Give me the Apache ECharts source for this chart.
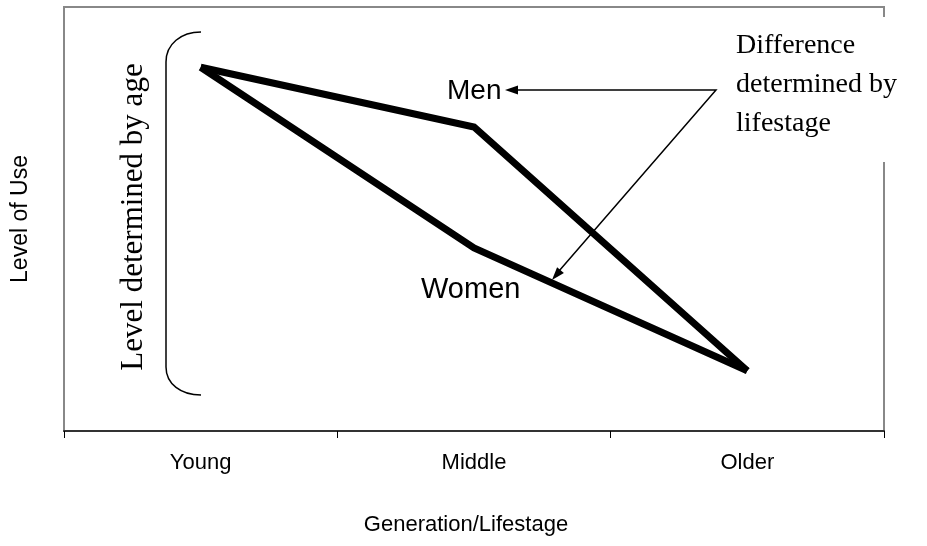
<!DOCTYPE html>
<html>
<head>
<meta charset="utf-8">
<script src="https://cdn.jsdelivr.net/npm/echarts@6/dist/echarts.min.js"></script>
<style>html,body{margin:0;padding:0;background:#fff;}#c{width:927px;height:546px;}</style>
</head>
<body>
<div id="c"></div>
<script>
const categories = ['Young', 'Middle', 'Older'];
const menValues = [85.8, 71.7, 14.2];
const womenValues = [85.8, 43.2, 14.2];
const xAxisTitle = 'Generation/Lifestage';
const yAxisTitle = 'Level of Use';

const chart = echarts.init(document.getElementById('c'), null, {renderer: 'canvas'});
const sans = 'Arial, "Liberation Sans", sans-serif';
const serif = '"Times New Roman", "Liberation Serif", serif';
const bracketStyle = {fill: null, stroke: '#000', lineWidth: 1.5};

chart.setOption({
  animation: false,
  backgroundColor: '#fff',
  grid: {left: 64, right: 43, top: 7, bottom: 115, show: true, borderColor: '#888', borderWidth: 2},
  xAxis: {
    type: 'category', data: categories, boundaryGap: true,
    axisLine: {lineStyle: {color: '#333', width: 2}},
    axisTick: {show: true, length: 7, lineStyle: {color: '#000', width: 1}},
    axisLabel: {color: '#000', fontFamily: sans, fontSize: 22, margin: 21},
    splitLine: {show: false},
    name: xAxisTitle, nameLocation: 'middle', nameGap: 83,
    nameTextStyle: {color: '#000', fontFamily: sans, fontSize: 22, padding: [0, 16, 0, 0]}
  },
  yAxis: {
    type: 'value', min: 0, max: 100,
    axisLine: {show: false}, axisTick: {show: false}, axisLabel: {show: false}, splitLine: {show: false},
    name: yAxisTitle, nameLocation: 'middle', nameGap: 32, nameRotate: 90,
    nameTextStyle: {color: '#000', fontFamily: sans, fontSize: 23}
  },
  series: [
    {name: 'Men', type: 'line', data: menValues, symbol: 'none', z: 3,
     lineStyle: {color: '#000', width: 7, cap: 'butt', join: 'miter'}},
    {name: 'Women', type: 'line', data: womenValues, symbol: 'none', z: 3,
     lineStyle: {color: '#000', width: 7, cap: 'butt', join: 'miter'}}
  ],
  graphic: [
    {type: 'rect', z: 100, shape: {x: 730, y: 17, width: 197, height: 145}, style: {fill: '#fff'}},
    {type: 'text', z: 101, x: 736, y: 26,
     style: {text: 'Difference\ndetermined by\nlifestage', fill: '#000', font: '28px ' + serif, lineHeight: 39, textAlign: 'left', textVerticalAlign: 'top'}},
    {type: 'bezierCurve', z: 101, shape: {x1: 201, y1: 32, cpx1: 181, cpy1: 32, cpx2: 166, cpy2: 44, x2: 166, y2: 62}, style: bracketStyle},
    {type: 'line', z: 101, shape: {x1: 166, y1: 62, x2: 166, y2: 367}, style: bracketStyle},
    {type: 'bezierCurve', z: 101, shape: {x1: 166, y1: 367, cpx1: 166, cpy1: 384, cpx2: 181, cpy2: 395, x2: 201, y2: 395}, style: bracketStyle},
    {type: 'text', z: 101, x: 134, y: 217, rotation: Math.PI / 2,
     style: {text: 'Level determined by age', fill: '#000', font: '31px ' + serif, textAlign: 'center', textVerticalAlign: 'middle'}},
    {type: 'text', z: 101, x: 447, y: 91,
     style: {text: 'Men', fill: '#000', font: '28px ' + sans, textAlign: 'left', textVerticalAlign: 'middle'}},
    {type: 'text', z: 101, x: 421, y: 290,
     style: {text: 'Women', fill: '#000', font: '29px ' + sans, textAlign: 'left', textVerticalAlign: 'middle'}},
    {type: 'polyline', z: 101, shape: {points: [[517, 90], [716, 90], [559, 271]]},
     style: {fill: null, stroke: '#000', lineWidth: 1.5}},
    {type: 'polygon', z: 101, shape: {points: [[505, 90], [518, 85.5], [518, 94.5]]}, style: {fill: '#000'}},
    {type: 'polygon', z: 101, shape: {points: [[552, 280], [563.9, 273.1], [557.1, 267.3]]}, style: {fill: '#000'}}
  ]
});
</script>
</body>
</html>
